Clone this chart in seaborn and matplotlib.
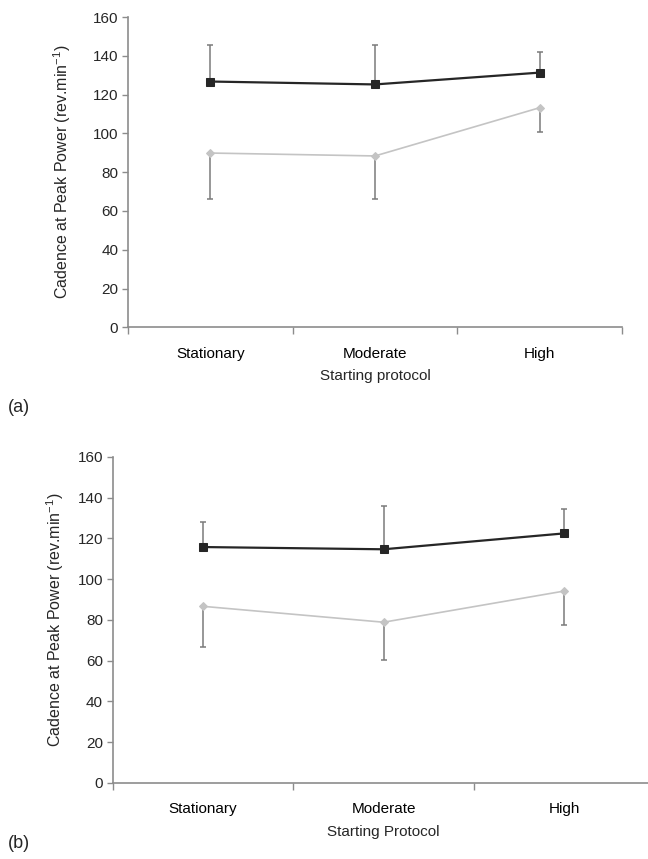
import numpy as np
import pandas as pd
import seaborn as sns
from matplotlib import pyplot as plt

categories = ['Stationary', 'Moderate', 'High']

# panel (a)
a_dark = [126.8, 125.3, 131.4]
a_dark_upper = [145.4, 145.4, 142.2]
a_light = [89.9, 88.4, 113.3]
a_light_lower = [66.4, 66.4, 100.7]

# panel (b)
b_dark = [115.8, 114.7, 122.5]
b_dark_upper = [128.2, 135.9, 134.4]
b_light = [86.7, 78.9, 94.2]
b_light_lower = [66.5, 60.4, 77.4]

sns.set_style('white')
plt.rcParams['font.family'] = ['Liberation Sans', 'DejaVu Sans']
plt.rcParams['mathtext.default'] = 'regular'

AXIS_GREY = '#8c8c8c'
ERR_GREY = '#7a7a7a'


def draw_panel(ax, dark, dark_up, light, light_lo, xlabel, ylabelpad):
    pos = np.arange(len(categories))
    df = pd.DataFrame({'pos': np.concatenate([pos, pos]),
                       'value': dark + light,
                       'group': ['dark'] * 3 + ['light'] * 3})
    # error bars (one-sided, as in the original)
    ax.errorbar(pos, dark, yerr=[np.zeros(3), np.array(dark_up) - np.array(dark)],
                fmt='none', ecolor=ERR_GREY, elinewidth=1.1, capsize=2.5, capthick=1.1, zorder=1)
    ax.errorbar(pos, light, yerr=[np.array(light) - np.array(light_lo), np.zeros(3)],
                fmt='none', ecolor=ERR_GREY, elinewidth=1.1, capsize=2.5, capthick=1.1, zorder=1)
    sns.lineplot(data=df[df.group == 'dark'], x='pos', y='value', ax=ax, color='#262626',
                 marker='s', markersize=6, markeredgecolor='#262626', linewidth=1.6, zorder=3)
    sns.lineplot(data=df[df.group == 'light'], x='pos', y='value', ax=ax, color='#c4c4c4',
                 marker='D', markersize=4, markeredgecolor='#c4c4c4', linewidth=1.2, zorder=3)

    ax.set_xlim(-0.5, 2.5)
    ax.set_ylim(0, 160)
    ax.set_yticks(range(0, 161, 20))
    ax.set_xticks(pos)
    ax.set_xticklabels(categories)
    ax.set_xticks([-0.5, 0.5, 1.5, 2.5], minor=True)
    ax.tick_params(which='both', bottom=True, left=True)
    ax.tick_params(axis='x', which='major', length=0, pad=14, labelsize=11, colors='black')
    ax.tick_params(axis='x', which='minor', length=5, width=1, color=AXIS_GREY, direction='out')
    ax.tick_params(axis='y', length=4, width=1, color=AXIS_GREY, direction='out', labelsize=11,
                   pad=3)
    for side in ['top', 'right']:
        ax.spines[side].set_visible(False)
    for side in ['left', 'bottom']:
        ax.spines[side].set_color(AXIS_GREY)
        ax.spines[side].set_linewidth(1.2)
    ax.set_xlabel(xlabel, fontsize=11, labelpad=6)
    ax.set_ylabel('Cadence at Peak Power (rev.min$^{-1}$)', fontsize=11.5, labelpad=ylabelpad)


fig = plt.figure(figsize=(6.48, 8.59), dpi=100)
ax1 = fig.add_axes([0.1975, 0.619, 0.7625, 0.361])
ax2 = fig.add_axes([0.174, 0.0885, 0.836, 0.3795])

draw_panel(ax1, a_dark, a_dark_upper, a_light, a_light_lower, 'Starting protocol', 14)
draw_panel(ax2, b_dark, b_dark_upper, b_light, b_light_lower, 'Starting Protocol', 8)

fig.text(0.012, 1 - 407 / 859, '(a)', fontsize=13, va='center', ha='left')
fig.text(0.012, 1 - 843 / 859, '(b)', fontsize=13, va='center', ha='left')

fig.savefig('out.png', dpi=100, facecolor='white')
